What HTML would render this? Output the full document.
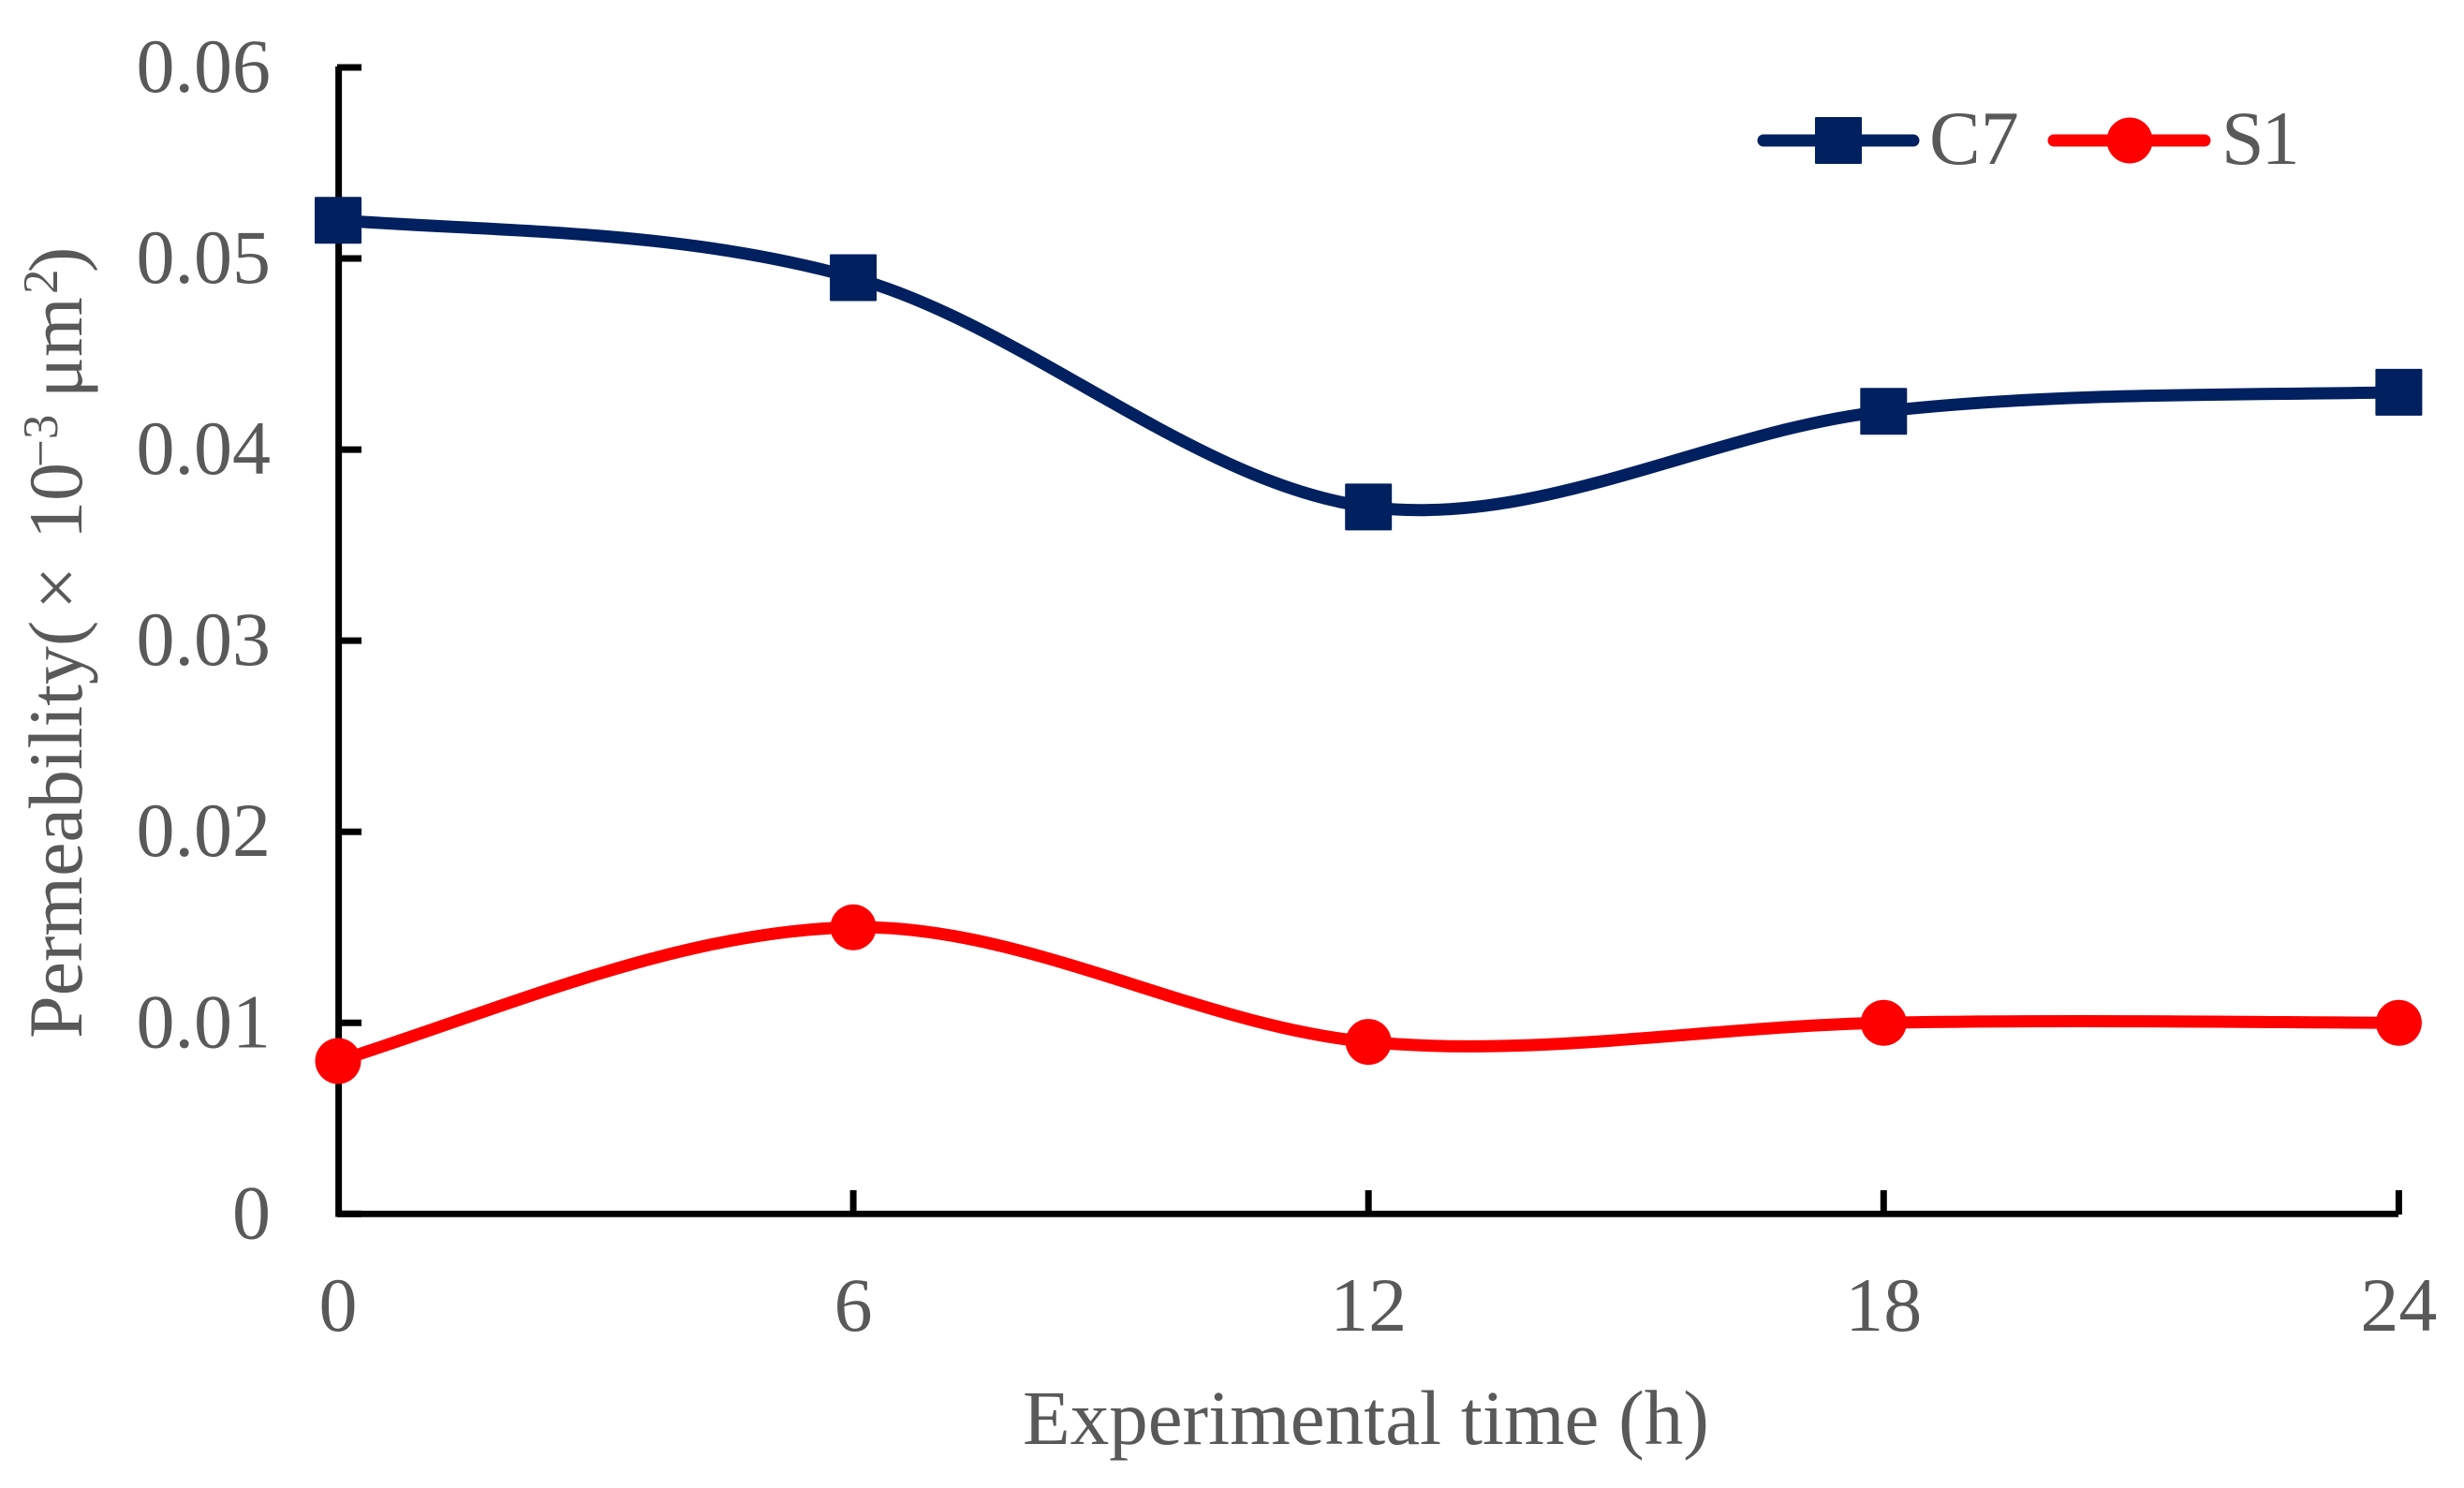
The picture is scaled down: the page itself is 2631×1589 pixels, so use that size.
<!DOCTYPE html>
<html lang="en">
<head>
<meta charset="utf-8">
<title>Permeability vs experimental time</title>
<style>
html,body{margin:0;padding:0;background:#fff;}
svg{display:block;}
text{font-family:"Liberation Serif","DejaVu Serif",serif;fill:#595959;font-size:82px;}
</style>
</head>
<body>
<svg id="chart" xmlns="http://www.w3.org/2000/svg" width="2631" height="1589" viewBox="0 0 2631 1589">
  <rect x="0" y="0" width="2631" height="1589" fill="#ffffff"/>
  <g id="axes"></g>
  <g id="series"></g>
  <text x="1092" y="1542" style="font-size:83px">Experimental time (h)</text>
  <text x="87" y="1109" transform="rotate(-90 87 1109)">Permeability(<tspan x="545">×</tspan><tspan x="620">10</tspan><tspan x="697" dy="-26" style="font-size:53px">−3</tspan><tspan x="771" dy="26">μm</tspan><tspan x="882" dy="-26" style="font-size:53px">2</tspan><tspan x="905" dy="26">)</tspan></text>
  <g>
    <g>
      <line x1="1883" y1="150" x2="2043" y2="150" stroke="#002060" stroke-width="13" stroke-linecap="round"/>
      <rect x="1939" y="126" width="48" height="48" fill="#002060" stroke="#002060" stroke-width="2" stroke-linejoin="round"/>
      <text x="2060" y="175">C7</text>
    </g>
    <g>
      <line x1="2193" y1="150" x2="2354" y2="150" stroke="#ff0000" stroke-width="13" stroke-linecap="round"/>
      <circle cx="2274" cy="150" r="24.5" fill="#ff0000"/>
      <text x="2372" y="175" style="letter-spacing:-3px">S1</text>
    </g>
  </g>
</svg>
<script>
const xCategories = [0, 6, 12, 18, 24];
const yTickValues = [0, 0.01, 0.02, 0.03, 0.04, 0.05, 0.06];
const yTickLabels = ["0", "0.01", "0.02", "0.03", "0.04", "0.05", "0.06"];
const xTickLabels = ["0", "6", "12", "18", "24"];
const seriesC7 = [0.052, 0.049, 0.037, 0.042, 0.043];
const seriesS1 = [0.008, 0.015, 0.009, 0.01, 0.01];

const NS = 'http://www.w3.org/2000/svg';
const axes = document.getElementById('axes');
const seriesLayer = document.getElementById('series');

function xScale(v) { return 361 + (v / 24) * 2200.4; }
function yScale(v) { return 1296.3 - (v / 0.06) * 1224.3; }

function make(tag, parent, attrs) {
  const el = document.createElementNS(NS, tag);
  for (const k in attrs) el.setAttribute(k, attrs[k]);
  parent.appendChild(el);
  return el;
}

// Axis lines
const yAxisLine = make('line', axes, { x1: 361.6, y1: 71, x2: 361.6, y2: 1299.5, stroke: '#000', 'stroke-width': 7 });


const xAxisLine = make('line', axes, { x1: 360, y1: 1296.3, x2: 2561, y2: 1296.3, stroke: '#000', 'stroke-width': 6.8 });



// Y ticks and labels
yTickValues.forEach(function (v, i) {
  const y = yScale(v);
  const tick = make('line', axes, { x1: 360, y1: y, x2: 386, y2: y, stroke: '#000', 'stroke-width': 7 });
  
  
  const label = make('text', axes, { x: 289, y: y + 26, 'text-anchor': 'end' });
  label.textContent = yTickLabels[i];
  
  
});

// X ticks and labels
xCategories.forEach(function (v, i) {
  const x = xScale(v);
  if (i > 0) {
    const tick = make('line', axes, { x1: x, y1: 1271, x2: x, y2: 1297, stroke: '#000', 'stroke-width': 7 });
    
    
  }
  const label = make('text', axes, { x: x, y: 1421, 'text-anchor': 'middle' });
  label.textContent = xTickLabels[i];
  
  
});

// Spreadsheet-style smoothed path through the points
function smoothPath(values) {
  const p = values.map(function (v, i) { return [xScale(xCategories[i]), yScale(v)]; });
  const n = p.length;
  let d = 'M' + p[0][0] + ' ' + p[0][1];
  for (let i = 0; i < n - 1; i++) {
    const a = p[i];
    const b = p[i + 1];
    const prev = p[i - 1];
    const next2 = p[i + 2];
    let c1 = prev ? [a[0] + (b[0] - prev[0]) / 6, a[1] + (b[1] - prev[1]) / 6] : null;
    let c2 = next2 ? [b[0] - (next2[0] - a[0]) / 6, b[1] - (next2[1] - a[1]) / 6] : null;
    if (!c1) {
      c1 = [
        a[0] + ((c2[0] - a[0]) / 2 + (b[0] - a[0]) / 3) / 2,
        a[1] + ((c2[1] - a[1]) / 2 + (b[1] - a[1]) / 3) / 2
      ];
    }
    if (!c2) {
      c2 = [
        b[0] + ((c1[0] - b[0]) / 2 + (a[0] - b[0]) / 3) / 2,
        b[1] + ((c1[1] - b[1]) / 2 + (a[1] - b[1]) / 3) / 2
      ];
    }
    d += 'C' + c1[0] + ' ' + c1[1] + ' ' + c2[0] + ' ' + c2[1] + ' ' + b[0] + ' ' + b[1];
  }
  return d;
}

// Series C7
const lineC7 = make('path', seriesLayer, { d: smoothPath(seriesC7), fill: 'none', stroke: '#002060', 'stroke-width': 13, 'stroke-linecap': 'round' });


seriesC7.forEach(function (v, i) {
  const m = make('rect', seriesLayer, { x: xScale(xCategories[i]) - 24, y: yScale(v) - 24, width: 48, height: 48, fill: '#002060', stroke: '#002060', 'stroke-width': 2, 'stroke-linejoin': 'round' });
  
  
});

// Series S1
const lineS1 = make('path', seriesLayer, { d: smoothPath(seriesS1), fill: 'none', stroke: '#ff0000', 'stroke-width': 13, 'stroke-linecap': 'round' });


seriesS1.forEach(function (v, i) {
  const m = make('circle', seriesLayer, { cx: xScale(xCategories[i]), cy: yScale(v), r: 24.5, fill: '#ff0000' });
  
  
});
</script>
</body>
</html>
